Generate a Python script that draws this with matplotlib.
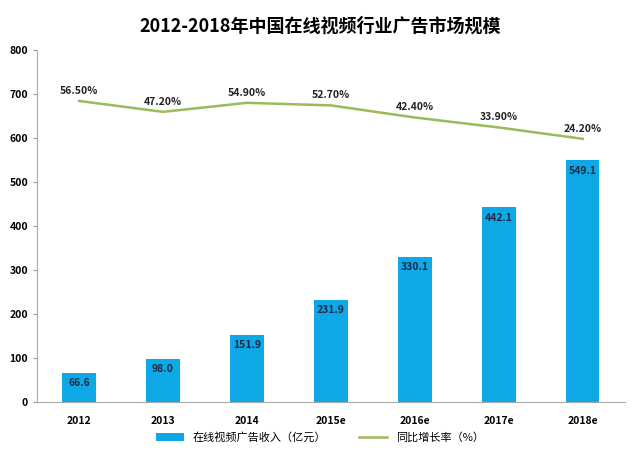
import matplotlib.pyplot as plt
import numpy as np

plt.rcParams['font.family'] = ['Noto Sans CJK SC', 'DejaVu Sans']

years = ["2012", "2013", "2014", "2015e", "2016e", "2017e", "2018e"]
revenue = [66.6, 98.0, 151.9, 231.9, 330.1, 442.1, 549.1]
growth = [56.5, 47.2, 54.9, 52.7, 42.4, 33.9, 24.2]

BAR_COLOR = "#0FA8E6"
LINE_COLOR = "#9BBB59"
LABEL_COLOR = "#1F2A44"

fig = plt.figure(figsize=(6.4, 4.62), dpi=100)
ax = fig.add_axes([0.058, 0.13, 0.918, 0.762])
x = np.arange(len(years))

ax.bar(x, revenue, width=0.4, color=BAR_COLOR, label="在线视频广告收入（亿元）", zorder=2)
for xi, v in zip(x, revenue):
    ax.text(xi, v - 12, f"{v:.1f}", ha="center", va="top", fontsize=7.5,
            fontweight="bold", color=LABEL_COLOR, zorder=3)

ax.set_xlim(-0.5, len(years) - 0.5)
ax.set_ylim(0, 800)
ax.set_yticks(range(0, 801, 100))
ax.set_xticks(x)
ax.set_xticklabels(years, fontsize=7.5, fontweight="bold")
ax.tick_params(axis="y", labelsize=7.5, length=3, color="#999999")
ax.tick_params(axis="x", length=0, pad=10)
for lab in ax.get_yticklabels():
    lab.set_fontweight("bold")
ax.spines["top"].set_visible(False)
ax.spines["right"].set_visible(False)
ax.spines["left"].set_color("#AAAAAA")
ax.spines["bottom"].set_color("#AAAAAA")

# growth line on a hidden secondary axis
ax2 = ax.twinx()
ax2.set_ylim(-200, 100)
ax2.plot(x, growth, color=LINE_COLOR, lw=1.8, label="同比增长率（%）", zorder=4)
for xi, g in zip(x, growth):
    ax2.text(xi, g + 4.5, f"{g:.2f}%", ha="center", va="bottom", fontsize=7.5,
             fontweight="bold", color="#222222")
ax2.axis("off")

fig.suptitle("2012-2018年中国在线视频行业广告市场规模", y=0.965, fontsize=13,
             fontweight="bold")

h1, l1 = ax.get_legend_handles_labels()
h2, l2 = ax2.get_legend_handles_labels()
fig.legend(h1 + h2, l1 + l2, loc="lower center", bbox_to_anchor=(0.5, 0.02),
           ncol=2, frameon=False, fontsize=8, handlelength=2.5, columnspacing=3)

fig.savefig("out.png", dpi=100)
